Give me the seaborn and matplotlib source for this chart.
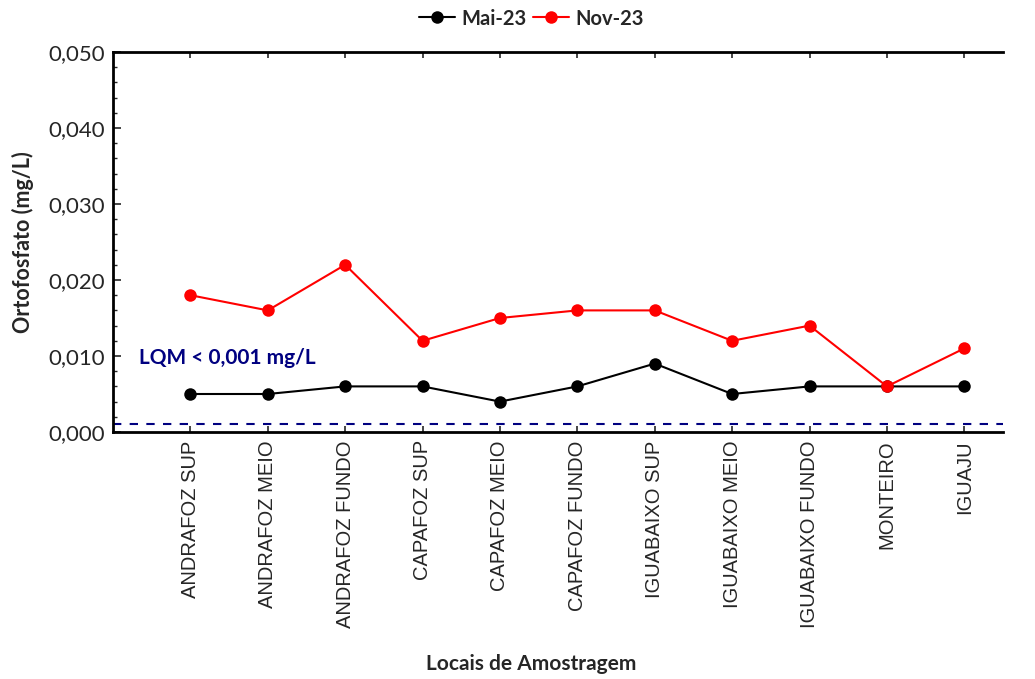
import matplotlib
matplotlib.use("Agg")
import matplotlib.pyplot as plt
import seaborn as sns
import pandas as pd
from matplotlib.ticker import MultipleLocator, FuncFormatter

locais = ["ANDRAFOZ SUP", "ANDRAFOZ MEIO", "ANDRAFOZ FUNDO", "CAPAFOZ SUP", "CAPAFOZ MEIO",
          "CAPAFOZ FUNDO", "IGUABAIXO SUP", "IGUABAIXO MEIO", "IGUABAIXO FUNDO", "MONTEIRO", "IGUAJU"]
mai23 = [0.005, 0.005, 0.006, 0.006, 0.004, 0.006, 0.009, 0.005, 0.006, 0.006, 0.006]
nov23 = [0.018, 0.016, 0.022, 0.012, 0.015, 0.016, 0.016, 0.012, 0.014, 0.006, 0.011]
series_names = ["Mai-23", "Nov-23"]
lqm = 0.001

sns.set_theme(style="white")
plt.rcParams['font.family'] = ['Lato', 'DejaVu Sans']

df = pd.DataFrame({
    "x": list(range(len(locais))) * 2,
    "v": mai23 + nov23,
    "s": [series_names[0]] * len(locais) + [series_names[1]] * len(locais),
})

fig = plt.figure(figsize=(10.35, 6.79), dpi=100)
ax = fig.add_axes([113/1035, 1 - 432/679, (1003-113)/1035, (432-52)/679])

sns.lineplot(data=df, x="x", y="v", hue="s", palette=["black", "red"], marker="o",
             markersize=9, markeredgewidth=0, linewidth=1.5, ax=ax, legend=True)

ax.axhline(lqm, color="#000080", linestyle=(0, (4, 4)), linewidth=1.5)
ax.text(-0.67, 0.0097, "LQM < 0,001 mg/L", color="#000080", fontsize=15,
        fontweight="bold", va="center", ha="left")

ax.set_xlim(-1, 10.5)
ax.set_ylim(0, 0.050)
ax.set_xticks(range(len(locais)))
ax.set_xticklabels(locais, rotation=90, family="Liberation Sans", fontsize=14.5)
ax.yaxis.set_major_locator(MultipleLocator(0.010))
ax.yaxis.set_minor_locator(MultipleLocator(0.002))
ax.yaxis.set_major_formatter(FuncFormatter(lambda v, p: f"{v:.3f}".replace(".", ",")))
ax.tick_params(axis="y", which="major", direction="in", length=6, width=1.2, left=True, right=False, labelsize=16, pad=6)
ax.tick_params(axis="y", which="minor", direction="in", length=3, width=1, left=True, right=False)
ax.tick_params(axis="x", which="major", direction="in", length=4, width=1.2, bottom=True, top=True, pad=6)
for sp in ax.spines.values():
    sp.set_color("black")
    sp.set_linewidth(2)
ax.spines["right"].set_visible(False)

ax.set_xlabel("Locais de Amostragem", fontsize=15, fontweight="bold")
ax.xaxis.set_label_coords(0.47, -0.585)
ax.set_ylabel("Ortofosfato (mg/L)", fontsize=15.5, fontweight="bold", labelpad=10)

handles, labels = ax.get_legend_handles_labels()
ax.legend(handles, labels, loc="lower center", bbox_to_anchor=(0.47, 1.03), ncol=2, frameon=False,
          prop={"weight": "bold", "size": 14.5}, handlelength=1.8, handletextpad=0.3, columnspacing=0.3,
          borderaxespad=0.2)

fig.savefig("out.png", dpi=100)
